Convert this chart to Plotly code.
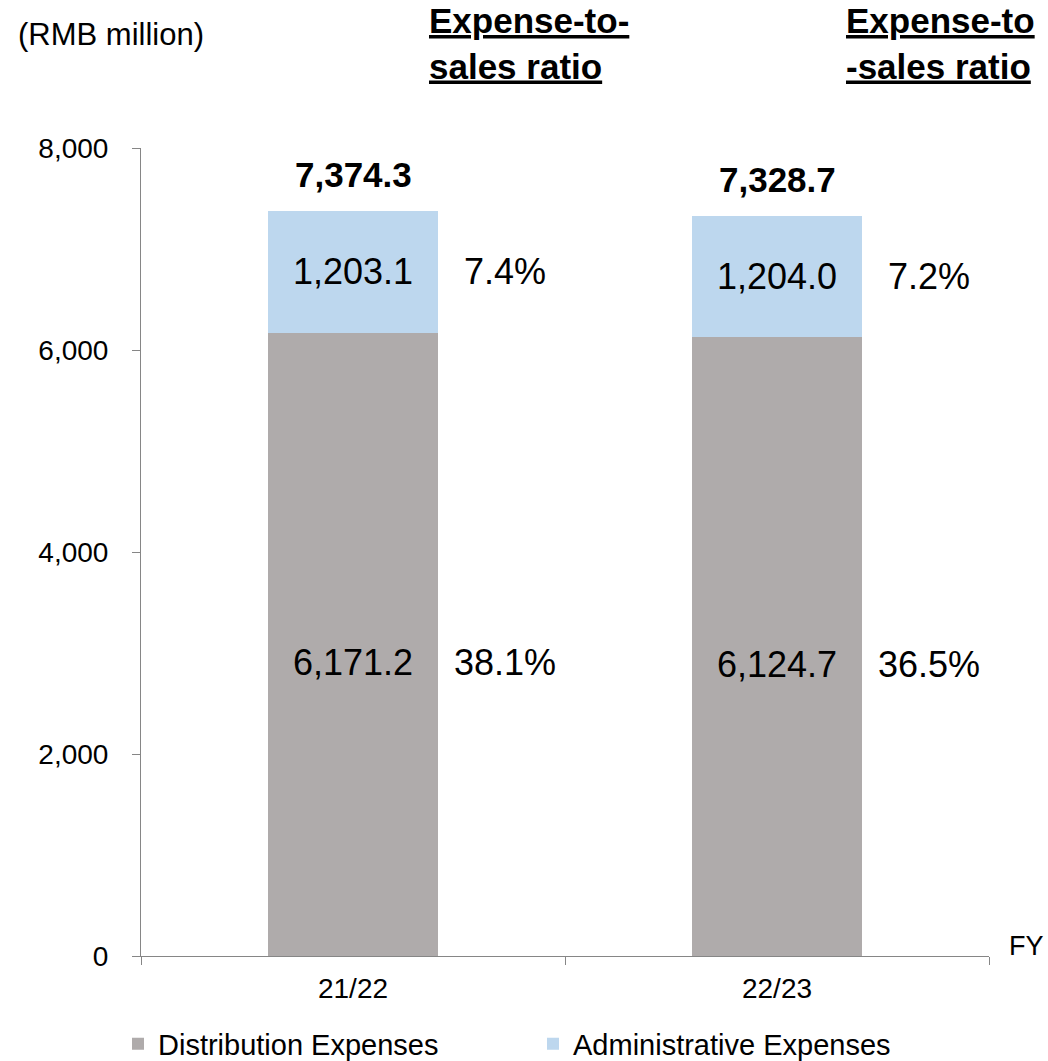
import plotly.graph_objects as go

categories = ["21/22", "22/23"]
distribution = [6171.2, 6124.7]
administrative = [1203.1, 1204.0]
totals = [7374.3, 7328.7]
dist_ratio = ["38.1%", "36.5%"]
admin_ratio = ["7.4%", "7.2%"]
y_ticks = [0, 2000, 4000, 6000, 8000]
y_tick_labels = ["0", "2,000", "4,000", "6,000", "8,000"]
header_lines = [["Expense-to-", "sales ratio"], ["Expense-to", "-sales ratio"]]

FONT = "Liberation Sans, Arial, sans-serif"
GRAY = "#AFABAB"
BLUE = "#BDD7EE"
AXIS = "#868686"

fig = go.Figure()
fig.add_trace(go.Bar(x=categories, y=distribution, name="Distribution Expenses",
                     marker=dict(color=GRAY, line=dict(width=0)), width=0.403))
fig.add_trace(go.Bar(x=categories, y=administrative, name="Administrative Expenses",
                     marker=dict(color=BLUE, line=dict(width=0)), width=0.403))

LBL = dict(size=36, color="black", family=FONT)
ann = []
for i, c in enumerate(categories):
    d, a, t = distribution[i], administrative[i], totals[i]
    ann.append(dict(x=c, y=d / 2, text=f"{d:,.1f}", showarrow=False, yshift=-18, font=LBL))
    ann.append(dict(x=c, y=d + a / 2, text=f"{a:,.1f}", showarrow=False, font=LBL))
    ann.append(dict(x=c, y=t, text=f"<b>{t:,.1f}</b>", showarrow=False, yanchor="bottom", yshift=15,
                    font=dict(size=35, color="black", family=FONT)))
    ann.append(dict(x=c, y=d / 2, text=dist_ratio[i], showarrow=False, yshift=-18, xshift=152, font=LBL))
    ann.append(dict(x=c, y=d + a / 2, text=admin_ratio[i], showarrow=False, xshift=152, font=LBL))

ann.append(dict(xref="paper", yref="paper", x=(16 - 141) / 848, y=(956 - 35) / 808, xanchor="left",
                yanchor="middle", text="(RMB million)", showarrow=False,
                font=dict(size=31, color="black", family=FONT)))
for lines, xpx in zip(header_lines, [427, 844]):
    ann.append(dict(xref="paper", yref="paper", x=(xpx - 141) / 848, y=(956 - 43) / 808,
                    xanchor="left", yanchor="middle", align="left", showarrow=False,
                    text="<b>" + "<br>".join(f"<u>{s}</u>" for s in lines) + "</b>",
                    font=dict(size=35, color="black", family=FONT)))
ann.append(dict(xref="paper", yref="paper", x=(1007 - 141) / 848, y=(956 - 946) / 808, xanchor="left",
                yanchor="middle", text="FY", showarrow=False, font=dict(size=27, color="black", family=FONT)))

fig.update_layout(
    barmode="stack",
    width=1048, height=1061,
    margin=dict(l=141, r=59, t=148, b=105),
    paper_bgcolor="white", plot_bgcolor="white",
    font=dict(family=FONT, color="black"),
    annotations=ann,
    showlegend=True,
    legend=dict(orientation="h", xref="container", yref="container", x=118 / 1048, y=(1061 - 1044) / 1061,
                xanchor="left", yanchor="middle", font=dict(size=29, color="black", family=FONT),
                entrywidth=370, entrywidthmode="pixels", traceorder="normal",
                itemclick=False, itemdoubleclick=False, bgcolor="rgba(0,0,0,0)"),
    xaxis=dict(type="category", range=[-0.5, 1.5], showline=True, linecolor=AXIS, linewidth=1,
               ticks="outside", tickson="boundaries", ticklen=8, tickcolor=AXIS,
               ticklabelstandoff=7,
               tickfont=dict(size=28, color="black", family=FONT), showgrid=False, zeroline=False),
    yaxis=dict(range=[0, 8000], tickvals=y_ticks, ticktext=y_tick_labels, showline=True,
               linecolor=AXIS, linewidth=1, ticks="outside", ticklen=8, tickcolor=AXIS,
               ticklabelstandoff=18,
               tickfont=dict(size=28, color="black", family=FONT), showgrid=False, zeroline=False),
)

fig.write_html("out.html")
